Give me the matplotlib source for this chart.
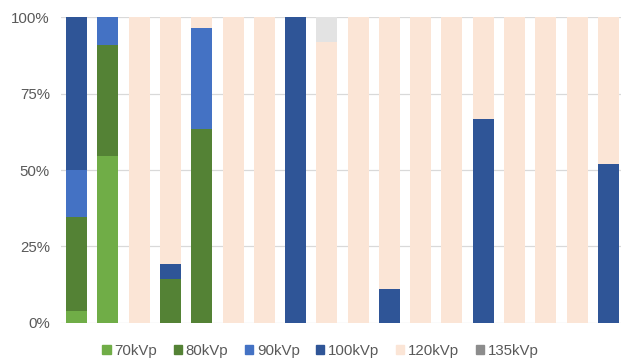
import matplotlib.pyplot as plt
from matplotlib.patches import Patch
from matplotlib.ticker import FuncFormatter

plt.rcParams["font.family"] = ["Liberation Sans", "DejaVu Sans"]

series = ["70kVp", "80kVp", "90kVp", "100kVp", "120kVp", "135kVp"]
colors = ["#70AD47", "#548235", "#4472C4", "#2F5597", "#FBE5D6", "#E3E3E3"]
legend_colors = ["#70AD47", "#548235", "#4472C4", "#2F5597", "#FBE5D6", "#8C8C8C"]

# percent share of each tube voltage per case (18 cases)
v70 = [3.8, 54.6, 0, 0, 0, 0, 0, 0, 0, 0, 0, 0, 0, 0, 0, 0, 0, 0]
v80 = [30.7, 36.2, 0, 14.3, 63.3, 0, 0, 0, 0, 0, 0, 0, 0, 0, 0, 0, 0, 0]
v90 = [15.6, 9.2, 0, 0, 33.2, 0, 0, 0, 0, 0, 0, 0, 0, 0, 0, 0, 0, 0]
v100 = [49.9, 0, 0, 4.8, 0, 0, 0, 100, 0, 0, 11.1, 0, 0, 66.7, 0, 0, 0, 52.0]
v120 = [0, 0, 100, 80.9, 3.5, 100, 100, 0, 92.0, 100, 88.9, 100, 100, 33.3, 100, 100, 100, 48.0]
v135 = [0, 0, 0, 0, 0, 0, 0, 0, 8.0, 0, 0, 0, 0, 0, 0, 0, 0, 0]

values = [v70, v80, v90, v100, v120, v135]
x = list(range(len(v70)))

fig = plt.figure(figsize=(6.21, 3.6), dpi=100)
ax = fig.add_axes([61 / 621, 37.3 / 360, 563 / 621, 305.4 / 360])

bottom = [0] * len(x)
for name, vals, col in zip(series, values, colors):
    ax.bar(x, vals, width=0.67, bottom=bottom, color=col, label=name, zorder=3)
    bottom = [b + v for b, v in zip(bottom, vals)]

ax.set_xlim(-0.5, len(x) - 0.5)
ax.set_ylim(0, 100)
ax.set_yticks([0, 25, 50, 75, 100])
ax.yaxis.set_major_formatter(FuncFormatter(lambda v, p: f"{v:.0f}%"))
ax.set_xticks([])
ax.grid(axis="y", color="#D9D9D9", linewidth=0.9, zorder=0)
for s in ax.spines.values():
    s.set_visible(False)
ax.tick_params(axis="y", length=0, labelsize=10.8, labelcolor="#595959", pad=8)

handles = [Patch(color=c, label=n) for n, c in zip(series, legend_colors)]
fig.legend(handles=handles, loc="center", bbox_to_anchor=(0.516, 0.026), ncol=6,
           frameon=False, fontsize=10.8, labelcolor="#595959",
           handlelength=0.55, handleheight=0.55, handletextpad=0.25, columnspacing=1.1)

fig.savefig("out.png", dpi=100)
